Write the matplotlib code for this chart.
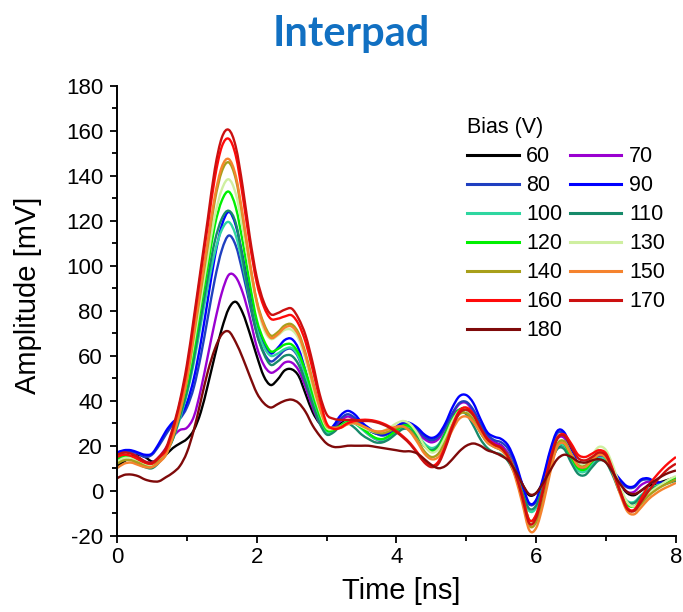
"""
Interpad pulse shapes: amplitude vs time for a bias scan 60-180 V.
Output: out.png
"""

import matplotlib
matplotlib.use("Agg")
import matplotlib.pyplot as plt
import numpy as np
from matplotlib.lines import Line2D
from matplotlib.patches import PathPatch
from matplotlib.path import Path
from matplotlib.ticker import MultipleLocator

# sampling grid of the traces (ns)
TIME = np.linspace(0.0, 8.0, 81)

# ── Traces (mV), one value every 0.1 ns, rows = 1 ns ────────────────────────
V60 = [11, 13, 15, 16, 15, 13, 13.5, 16, 19, 21,
       23, 27, 35, 47, 60, 72, 81, 84, 79, 70,
       60, 51, 47, 49.5, 53.5, 54, 51, 43, 35, 30,
       28, 28, 30, 31, 30.5, 29, 27, 25.5, 25, 26,
       28, 30, 29.5, 27, 24, 22.5, 24, 28, 33, 36,
       36, 33, 28, 24, 21.5, 20, 16, 10, 3, -2,
       -1, 4, 12, 19, 20, 16, 12, 11, 13, 15,
       14, 9, 3, -1, -2, 0, 2, 3, 4, 5,
       6]
V70 = [17, 17.5, 17, 15, 13, 12.5, 15, 19, 24, 27,
       28, 33, 45, 60, 75, 88, 96, 95, 88, 77,
       64, 56, 52.5, 54, 57, 57, 53.5, 46, 37, 30,
       27, 28, 31, 33, 31.5, 28, 25, 23, 22, 23.5,
       26, 28, 28, 26, 23, 21.5, 23, 28, 34, 38.5,
       39, 35, 29, 24, 21.5, 20, 16.5, 10, 1, -6,
       -4.5, 4, 15, 23, 23.5, 17.5, 11.5, 10, 12.5, 15,
       14, 8.5, 3, -0.5, -0.5, 2.5, 4, 3.5, 3.5, 4.5,
       5.5]
V80 = [16, 17, 17.5, 16.5, 15, 16, 20, 25, 29.5, 32,
       37, 46, 60, 77, 94, 107, 113.5, 109, 97, 83,
       70, 61.5, 57.5, 59.5, 62.5, 63, 59, 50, 40, 31,
       26, 28, 32, 34, 32.5, 29.5, 27, 25.5, 24.5, 25.5,
       27.5, 29.5, 29, 27, 24, 22.5, 24, 28.5, 34.5, 39,
       39.5, 36, 30, 25, 22.5, 21.5, 18.5, 12, 2, -6,
       -4.5, 5, 17, 25.5, 25, 18, 11.5, 9.5, 12, 14.5,
       13.5, 9, 4.5, 1.5, 1.5, 4.5, 5, 4, 3.5, 4.5,
       5.5]
V90 = [17, 18, 18, 17, 16, 16.5, 21, 26.5, 30.5, 33,
       39, 50, 66, 85, 104, 118, 124, 118, 104, 88,
       74, 65.5, 61, 63.5, 67, 67.5, 63, 53, 42, 32,
       26.5, 29, 33.5, 35.5, 34, 30.5, 28, 26, 25, 26,
       28.5, 30.5, 30, 28, 25, 23.5, 25, 30, 37, 42,
       42.5, 39, 32, 26, 24, 23, 20, 13, 3, -5.5,
       -4, 6, 18, 26.5, 26, 19, 12, 10, 12.5, 14.5,
       13.5, 9, 5, 2, 2, 5, 5.5, 4, 3.5, 4.5,
       6]
V100 = [14, 15.5, 15, 13, 11.5, 11, 13, 17, 23, 32,
        43, 57, 74, 91, 106, 116, 119.5, 113.5, 100.5, 85,
        72, 64, 60, 61, 63, 63.5, 59.5, 51, 41, 32,
        26, 26.5, 29, 31, 30, 27.5, 25, 23, 22.5, 24,
        26.5, 28.5, 28, 25, 21, 19, 20.5, 26, 32, 36,
        36, 32, 26, 21.5, 19.5, 18, 15, 8.5, -1, -9,
        -7.5, 2, 12, 19.5, 20, 14.5, 9, 8.5, 12, 14.5,
        13.5, 7.5, 0, -4.5, -5, -2, 0.5, 2, 3, 4,
        5]
V110 = [13, 14.5, 14, 12, 10.5, 10, 12.5, 17, 23, 33,
        44, 59, 77, 95, 111, 121, 124.5, 119, 103, 85,
        70, 61, 56, 57.5, 60, 60, 56, 48, 38.5, 30,
        25, 26, 29, 30, 28, 25, 23, 21.5, 21.5, 23,
        25.5, 27.5, 27, 24, 20, 18, 20, 26, 32, 35,
        34, 29, 23, 19, 17, 16, 13, 7, -1, -8,
        -6.5, 2, 11.5, 18.5, 18.5, 12.5, 7.5, 7, 10.5, 13.5,
        12.5, 6.5, -1, -5, -5.5, -2.5, 0, 1.5, 2.5, 3.5,
        4.5]
V120 = [14, 15.5, 15, 13.5, 12, 11.5, 14, 18, 25, 35,
        47, 63, 82, 100, 118, 129, 133, 126, 110.5, 92,
        76, 67, 62, 63, 65, 65, 61, 53, 43, 33.5,
        27, 27, 29, 30.5, 30, 28, 25.5, 23.5, 23, 24.5,
        27, 29, 28.5, 25, 20, 17.5, 19, 25, 31.5, 36,
        36.5, 33, 27, 22, 20, 18.5, 15.5, 8.5, -2, -13,
        -11, -1, 11, 20.5, 21, 15, 10, 9.5, 13, 16,
        14.5, 8, 0, -6, -7, -4, -1, 1, 3, 4.5,
        6]
V130 = [13, 14.5, 14.5, 13, 11.5, 11, 13, 17, 25, 36,
        49, 66, 85, 104, 122, 134, 138.5, 132, 116.5, 98.5,
        83, 72, 67.5, 69, 71.5, 71.5, 67.5, 58, 46, 35.5,
        28, 27.5, 28.5, 30, 30, 28.5, 27, 26, 26.5, 28,
        30, 31, 29.5, 25.5, 20, 17, 18.5, 24, 31, 35.5,
        36, 33, 27, 22, 20, 18.5, 15, 8, -3, -14,
        -12, -2, 11, 21, 22, 16.5, 12, 12, 16, 19.5,
        18, 11, 2, -5, -7, -4.5, -1.5, 1, 3, 5,
        6.5]
V140 = [12, 13.5, 13.5, 12.5, 11, 10.5, 13, 16, 24, 35,
        49, 69, 89, 109, 129, 142, 146, 138.6, 121.5, 101.5,
        84.5, 74.5, 69, 70.5, 73.5, 74, 70, 61, 49, 37.5,
        29, 28, 28.5, 30, 30.5, 29, 27.5, 26, 25.5, 26.5,
        28, 28.5, 26.5, 22.5, 17.5, 15, 16.5, 22, 29, 34,
        34.5, 31.5, 26, 21.5, 19.5, 18, 14.5, 7, -4, -15.5,
        -14, -4, 9.5, 20.5, 22, 16.5, 11.5, 11, 14.5, 17,
        15.5, 8.5, 0, -7.5, -9, -6, -2.5, 0, 2, 3.5,
        5]
V150 = [10, 12, 12.5, 11.5, 10.5, 10.5, 12.5, 16, 24, 35,
        50, 70, 91, 111, 131, 144, 147.5, 140, 122.5, 101.5,
        84, 73.5, 68, 69.5, 72.5, 73, 69, 60, 48, 37,
        29, 28, 28, 29.5, 30, 29, 27.5, 26.5, 26.5, 27.5,
        28.5, 28.5, 26, 21.5, 16.5, 14, 15, 20, 27, 32,
        33, 30.5, 26, 21.5, 19.5, 18, 14, 6, -5.5, -17.5,
        -16.5, -6, 8, 19.5, 21, 16, 11, 10.5, 13.5, 16,
        14.5, 7.5, -1.5, -9, -10.5, -7.5, -4, -1.5, 0.5, 2,
        3.5]
V160 = [15, 16, 15.5, 14, 12.5, 12, 14.5, 18, 27, 39,
        54, 75, 97, 118, 139, 153, 156.5, 149, 131, 110,
        92.5, 82, 76.5, 76.5, 77.5, 78, 74, 66, 54, 41,
        30, 27.5, 28, 30, 31, 31.5, 31.5, 31, 30, 28.5,
        26.5, 24, 21, 17, 13, 11, 13, 20, 29, 35.5,
        37, 34, 28, 23, 20.5, 19, 15, 8, -2, -13,
        -10.5, 1, 14, 23.5, 25, 21, 16, 15, 16.5, 18,
        16.5, 9, 0, -7.5, -8.5, -3.5, 2, 6, 9.5, 12.5,
        15]
V170 = [16, 17, 16.5, 15, 13, 12.5, 15, 19, 28, 40,
        56, 77, 99, 121, 143, 157, 160.5, 153, 135, 113,
        95, 84, 78.5, 79, 80.5, 81, 76.5, 69, 57, 43,
        34, 32, 31.5, 31.5, 31.5, 31, 31, 30.5, 29.5, 28,
        26, 23.5, 20.5, 16.5, 12.5, 10.5, 12, 19, 28, 34.5,
        36, 33.5, 28, 23, 20.5, 19, 15, 8, -3, -14.5,
        -12, 0, 13, 23, 24.5, 19.5, 14.5, 13.5, 15, 17,
        15.5, 8.5, -0.5, -8, -9, -5, -0.5, 3.5, 7, 10,
        12]
V180 = [5.5, 7, 7.2, 6.5, 5, 4.2, 4.2, 6, 8, 11,
        17, 27, 40, 53, 63, 69.5, 70.8, 66, 59, 51,
        43.5, 39, 37, 38.5, 40, 40.5, 39, 35, 29, 24.5,
        21, 19.5, 19.5, 20, 20, 20, 20, 19.5, 19, 18.5,
        18, 17.5, 17.5, 16.5, 14, 11.5, 10, 11, 14, 17.5,
        20, 21, 20, 18, 17, 15.5, 13.5, 9, 3, -1.5,
        -1, 3.5, 9, 14, 16, 15, 13, 12.5, 13.5, 14,
        12.5, 8, 3, -0.5, -1.5, 0, 2.5, 4.5, 6.5, 8,
        9]

BIAS   = ["60", "70", "80", "90", "100", "110", "120",
          "130", "140", "150", "160", "170", "180"]
TRACES = [V60, V70, V80, V90, V100, V110, V120,
          V130, V140, V150, V160, V170, V180]
COLORS = ["#000000", "#9A00D0", "#1F3FC0", "#0000FF", "#2ED6A0", "#178A6A",
          "#00F000", "#CFEFA0", "#A89F1A", "#F5832E", "#FF0A0A", "#CC1010",
          "#7F0A0A"]

plt.rcParams.update({
    "font.family":        ["Liberation Sans", "DejaVu Sans"],
    "font.size":          16,
    "axes.linewidth":     1.4,
    "axes.unicode_minus": False,
    "xtick.labelsize":    16,
    "ytick.labelsize":    16,
})


def spline_path(x, y):
    """Smooth (Catmull-Rom style) Bezier path through the samples, like Origin's spline line."""
    p = np.column_stack([x, np.asarray(y, float)])
    p_ext = np.vstack([p[0], p, p[-1]])
    verts, codes = [p[0]], [Path.MOVETO]
    for i in range(len(p) - 1):
        p0, p1, p2, p3 = p_ext[i], p_ext[i + 1], p_ext[i + 2], p_ext[i + 3]
        verts += [p1 + (p2 - p0) / 6.0, p2 - (p3 - p1) / 6.0, p2]
        codes += [Path.CURVE4] * 3
    return Path(verts, codes)


fig = plt.figure(figsize=(6.83, 6.12), dpi=100)
ax = fig.add_axes([0.1713, 0.1247, 0.8184, 0.7348])

handles = {}
for lab, y, c in zip(BIAS, TRACES, COLORS):
    ax.add_patch(PathPatch(spline_path(TIME, y), fill=False, edgecolor=c,
                           lw=1.7, joinstyle="round", capstyle="butt"))
    handles[lab] = Line2D([], [], color=c, lw=2.2)

ax.set_xlim(0, 8)
ax.set_ylim(-20, 180)
ax.xaxis.set_major_locator(MultipleLocator(2))
ax.xaxis.set_minor_locator(MultipleLocator(1))
ax.yaxis.set_major_locator(MultipleLocator(20))
ax.yaxis.set_minor_locator(MultipleLocator(10))
ax.spines["top"].set_visible(False)
ax.spines["right"].set_visible(False)
ax.tick_params(axis="both", which="major", direction="out", length=5, width=1.3, pad=3)
ax.tick_params(axis="both", which="minor", direction="out", length=3.5, width=1.3)
ax.tick_params(axis="y", which="major", pad=5)

ax.set_xlabel("Time [ns]", fontsize=21)
ax.set_ylabel("Amplitude [mV]", fontsize=21)
ax.xaxis.set_label_coords(0.509, -0.092)
ax.yaxis.set_label_coords(-0.135, 0.535)

# two-column legend, filled column-first
order = ["60", "80", "100", "120", "140", "160", "180",
         "70", "90", "110", "130", "150", "170"]
leg = ax.legend([handles[k] for k in order], order,
                title="Bias (V)", ncol=2, frameon=False,
                loc="upper left", bbox_to_anchor=(0.626, 0.93),
                fontsize=15.5, title_fontsize=15.5, alignment="left",
                handlelength=2.4, handletextpad=0.35, columnspacing=0.35,
                labelspacing=0.37, borderpad=0, borderaxespad=0)

fig.text(0.514, 0.944, "Interpad", ha="center", va="center",
         fontsize=30, fontweight="bold", color="#1170C2", family="Lato")

fig.savefig("out.png", dpi=100)
plt.close(fig)
